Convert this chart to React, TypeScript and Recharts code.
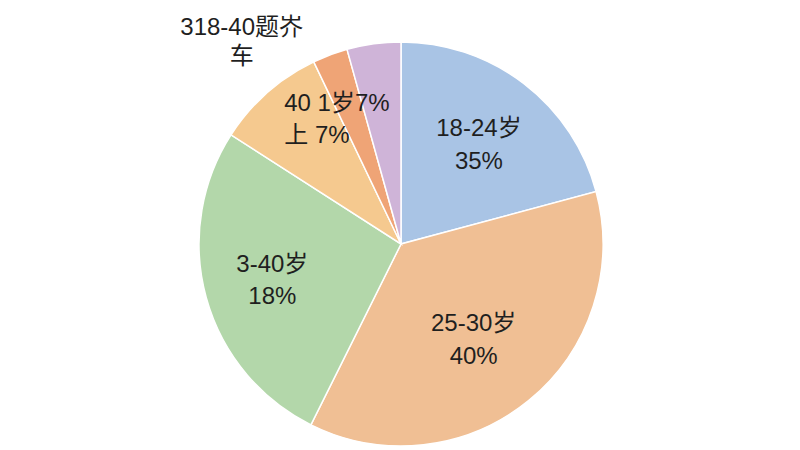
import React from "react";
import { PieChart, Pie, Cell } from "recharts";

// slice order, clockwise from 12 o'clock
const groups = ["18-24岁", "25-30岁", "31-40岁", "40岁以上", "其他", "未填"];
// share of each slice
const shares = [20.8, 36.5, 26.7, 8.8, 2.8, 4.3];
// label text exactly as printed in the picture
const labelLines = [
  ["18-24岁", "35%"],
  ["25-30岁", "40%"],
  ["3-40岁", "18%"],
  ["40 1岁7%", "上 7%"],
  ["318-40题岕", "车"],
  [],
];

const colors = ["#a9c4e5", "#f0bf94", "#b3d7aa", "#f5c98f", "#efa476", "#cfb4d8"];

const data = groups.map((name, i) => ({ name, value: shares[i] }));

const RAD = Math.PI / 180;
// radius factor, angle nudge (deg), text anchor, line gap
const labelPlace = [
  { rf: 0.63, nudge: -0.3, anchor: "middle", gap: 33 },
  { rf: 0.59, nudge: -1.7, anchor: "middle", gap: 33 },
  { rf: 0.66, nudge: -0.2, anchor: "middle", gap: 32 },
  { rf: 0.85, nudge: 1.4, anchor: "start", gap: 32 },
  { rf: 1.28, nudge: 17.5, anchor: "middle", gap: 29 },
  { rf: 0, nudge: 0, anchor: "middle", gap: 0 },
];

// eslint-disable-next-line @typescript-eslint/no-explicit-any
const renderLabel = (props: any) => {
  const { cx, cy, midAngle, outerRadius, index } = props;
  const lines = labelLines[index];
  if (!lines || !lines.length) return null;
  const p = labelPlace[index];
  const a = (midAngle + p.nudge) * RAD;
  const r = outerRadius * p.rf;
  const x = cx + r * Math.cos(a);
  const y = cy - r * Math.sin(a);
  const top = y - ((lines.length - 1) * p.gap) / 2;
  return (
    <text
      key={`lbl-${index}`}
      x={x}
      y={top}
      textAnchor={p.anchor}
      dominantBaseline="central"
      fill="#1f1f1f"
      fontSize={24}
      fontFamily="'Liberation Sans', 'Noto Sans CJK SC', sans-serif"
    >
      {lines.map((t, i) => (
        <tspan key={i} x={x} dy={i === 0 ? 0 : p.gap}>
          {t}
        </tspan>
      ))}
    </text>
  );
};

const App = () => {
  return (
    <div style={{ width: 792, height: 442, background: "#fff" }}>
      <PieChart width={792} height={442} margin={{ top: 0, right: 0, bottom: 0, left: 0 }}>
        <Pie
          data={data}
          dataKey="value"
          nameKey="name"
          cx={393}
          cy={236}
          outerRadius={202}
          startAngle={90}
          endAngle={-270}
          stroke="#ffffff"
          strokeWidth={1.5}
          label={renderLabel}
          labelLine={false}
          isAnimationActive={false}
        >
          {data.map((d, i) => (
            <Cell key={d.name} fill={colors[i]} />
          ))}
        </Pie>
      </PieChart>
    </div>
  );
};

export default App;
